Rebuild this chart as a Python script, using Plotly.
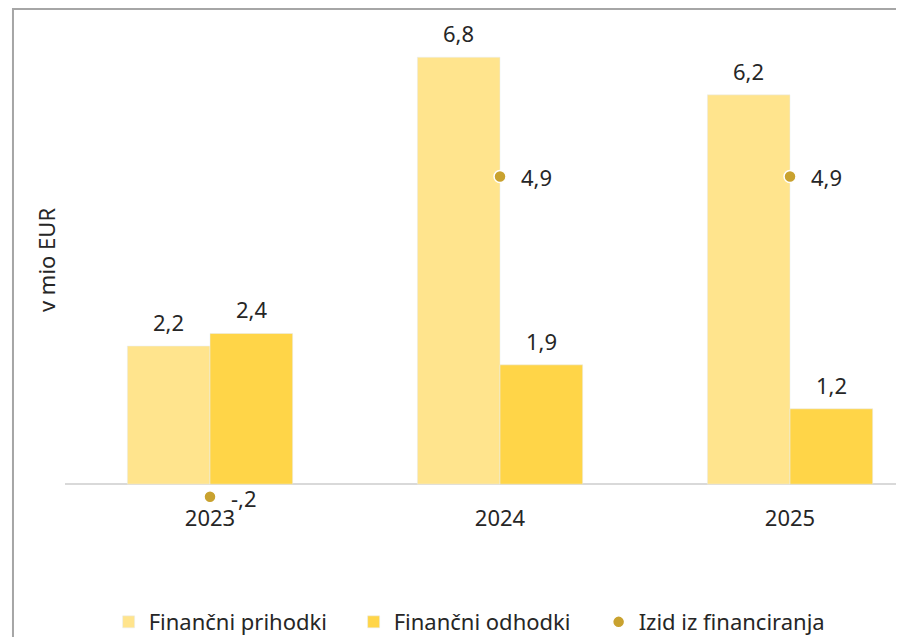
import plotly.graph_objects as go

years = ["2023", "2024", "2025"]
prihodki = [2.2, 6.8, 6.2]
odhodki = [2.4, 1.9, 1.2]
izid = [-0.2, 4.9, 4.9]

_FONT = "Noto Sans"
_TEXT = "#262626"
_SIZE = 22
_BARGAP = 0.43


def _fmt(v):
    # Excel "#,#" style: comma decimal, no leading zero
    s = f"{v:.1f}".replace(".", ",")
    return s.replace("0,", ",")


fig = go.Figure()
fig.add_trace(go.Bar(x=years, y=prihodki, name="Finančni prihodki", marker_color="#FFE48D"))
fig.add_trace(go.Bar(x=years, y=odhodki, name="Finančni odhodki", marker_color="#FFD548"))
fig.add_trace(go.Scatter(
    x=years, y=izid, name="Izid iz financiranja", mode="markers",
    marker=dict(color="#C9A22F", size=12, line=dict(color="white", width=1.5)),
    cliponaxis=False,
))

# data labels: Excel puts them further from the marks than plotly's own text
half = (1 - _BARGAP) / 4
annotations = []
for i in range(len(years)):
    for off, vals in ((-half, prihodki), (half, odhodki)):
        annotations.append(dict(x=i + off, y=vals[i], text=_fmt(vals[i]), showarrow=False,
                                yanchor="middle", yshift=24))
    annotations.append(dict(x=i, y=izid[i], text=_fmt(izid[i]), showarrow=False,
                            xanchor="left", xshift=19, yshift=-1))

fig.update_layout(
    width=904, height=660,
    margin=dict(l=57, r=8, t=9, b=165),
    paper_bgcolor="white", plot_bgcolor="white",
    font=dict(family=_FONT, size=_SIZE, color=_TEXT),
    barmode="group", bargap=_BARGAP, bargroupgap=0,
    showlegend=True,
    legend=dict(orientation="h", x=0.052, xanchor="left", y=-0.245, yanchor="middle",
                font=dict(size=_SIZE), traceorder="normal", entrywidth=200),
    xaxis=dict(range=[-0.5, 2.393], showline=False, showgrid=False, ticks="",
               tickfont=dict(size=_SIZE), automargin=False),
    yaxis=dict(range=[-0.30, 7.44], showgrid=False, showticklabels=False,
               zeroline=True, zerolinecolor="#D9D9D9", zerolinewidth=2,
               automargin=False,
               title=dict(text="v mio EUR", font=dict(size=_SIZE), standoff=2)),
    annotations=annotations,
    shapes=[dict(type="rect", xref="paper", yref="paper",
                 x0=-0.062, x1=1.2, y0=-0.6, y1=1.0165,
                 line=dict(color="#A6A6A6", width=2), fillcolor="rgba(0,0,0,0)",
                 layer="below")],
)

fig.write_html("out.html")
